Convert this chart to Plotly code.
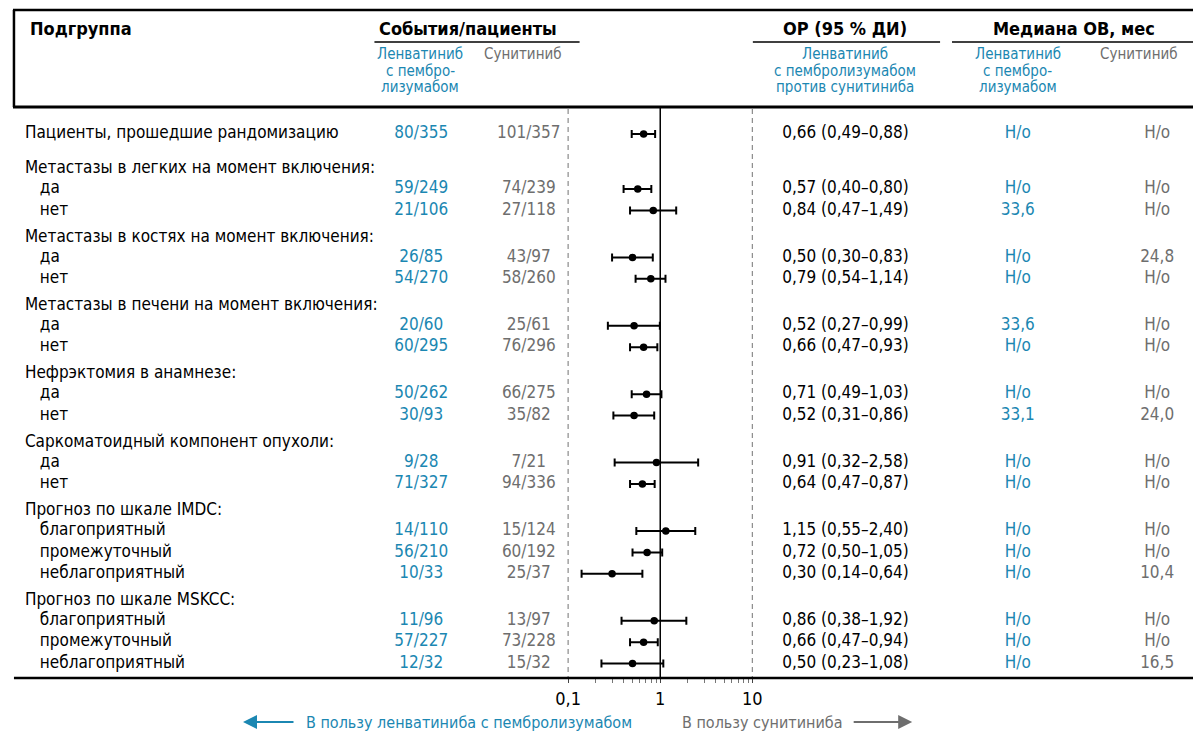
import plotly.graph_objects as go

W, H = 1194, 732
TEAL = "#1b87b2"
GRAY = "#6e6e6e"
FONT = "DejaVu Sans Condensed, Liberation Sans Narrow, Arial Narrow, sans-serif"

# ---------------- data ----------------
labels = [
    "Пациенты, прошедшие рандомизацию",
    "Метастазы в легких на момент включения:", "да", "нет",
    "Метастазы в костях на момент включения:", "да", "нет",
    "Метастазы в печени на момент включения:", "да", "нет",
    "Нефрэктомия в анамнезе:", "да", "нет",
    "Саркоматоидный компонент опухоли:", "да", "нет",
    "Прогноз по шкале IMDC:", "благоприятный", "промежуточный", "неблагоприятный",
    "Прогноз по шкале MSKCC:", "благоприятный", "промежуточный", "неблагоприятный",
]
kinds = ["top",
         "group", "sub", "sub",
         "group", "sub", "sub",
         "group", "sub", "sub",
         "group", "sub", "sub",
         "group", "sub", "sub",
         "group", "sub", "sub", "sub",
         "group", "sub", "sub", "sub"]
events_lp = ["80/355", "", "59/249", "21/106", "", "26/85", "54/270", "", "20/60", "60/295",
             "", "50/262", "30/93", "", "9/28", "71/327", "", "14/110", "56/210", "10/33",
             "", "11/96", "57/227", "12/32"]
events_sun = ["101/357", "", "74/239", "27/118", "", "43/97", "58/260", "", "25/61", "76/296",
              "", "66/275", "35/82", "", "7/21", "94/336", "", "15/124", "60/192", "25/37",
              "", "13/97", "73/228", "15/32"]
hr = [0.66, None, 0.57, 0.84, None, 0.50, 0.79, None, 0.52, 0.66, None, 0.71, 0.52,
      None, 0.91, 0.64, None, 1.15, 0.72, 0.30, None, 0.86, 0.66, 0.50]
hr_lo = [0.49, None, 0.40, 0.47, None, 0.30, 0.54, None, 0.27, 0.47, None, 0.49, 0.31,
         None, 0.32, 0.47, None, 0.55, 0.50, 0.14, None, 0.38, 0.47, 0.23]
hr_hi = [0.88, None, 0.80, 1.49, None, 0.83, 1.14, None, 0.99, 0.93, None, 1.03, 0.86,
         None, 2.58, 0.87, None, 2.40, 1.05, 0.64, None, 1.92, 0.94, 1.08]
median_lp = ["Н/о", "", "Н/о", "33,6", "", "Н/о", "Н/о", "", "33,6", "Н/о", "", "Н/о", "33,1",
             "", "Н/о", "Н/о", "", "Н/о", "Н/о", "Н/о", "", "Н/о", "Н/о", "Н/о"]
median_sun = ["Н/о", "", "Н/о", "Н/о", "", "24,8", "Н/о", "", "Н/о", "Н/о", "", "Н/о", "24,0",
              "", "Н/о", "Н/о", "", "Н/о", "Н/о", "10,4", "", "Н/о", "Н/о", "16,5"]
tick_vals = [0.1, 1, 10]
tick_text = ["0,1", "1", "10"]

# ---------------- row layout (pixel rows) ----------------
ys = []
y = 134.0
for i, k in enumerate(kinds):
    if i > 0:
        prev = kinds[i - 1]
        if k == "group":
            y += 35 if prev == "top" else 27
        elif prev == "group":
            y += 20
        else:
            y += 21.4
    ys.append(y)

TOP, HEAD_BOT, AX_Y = 10, 107, 678
X_ONE, DEC = 659, 92.5          # pixel of HR=1, pixels per decade
LOGR = 1.1
dom = [(X_ONE - LOGR * DEC) / W, (X_ONE + LOGR * DEC) / W]


def px(x):
    return x / W


def py(y):
    return 1 - y / H


fig = go.Figure()

# reference lines in forest panel
fig.add_trace(go.Scatter(x=[1, 1], y=[HEAD_BOT, AX_Y], mode="lines",
                         line=dict(color="black", width=1.5), hoverinfo="skip"))
for v in (0.1, 10):
    fig.add_trace(go.Scatter(x=[v, v], y=[HEAD_BOT + 2, AX_Y], mode="lines",
                             line=dict(color="#8a8a8a", width=1.2, dash="5px,4px"),
                             hoverinfo="skip"))

# forest points
idx = [i for i, v in enumerate(hr) if v is not None]
fig.add_trace(go.Scatter(
    x=[hr[i] for i in idx], y=[ys[i] for i in idx], mode="markers",
    marker=dict(color="black", size=7.5),
    error_x=dict(type="data", symmetric=False,
                 array=[hr_hi[i] - hr[i] for i in idx],
                 arrayminus=[hr[i] - hr_lo[i] for i in idx],
                 color="black", thickness=2, width=4),
    hoverinfo="skip"))


def fmt(v):
    return f"{v:.2f}".replace(".", ",")


hr_text = [f"{fmt(hr[i])} ({fmt(hr_lo[i])}–{fmt(hr_hi[i])})" if hr[i] is not None else ""
           for i in range(len(hr))]

SZ = 17
# label column
lab_x = [21 if k != "sub" else 36 for k in kinds]
fig.add_trace(go.Scatter(x=lab_x, y=ys, xaxis="x2", mode="text", text=labels,
                         textposition="middle right", cliponaxis=False,
                         textfont=dict(family=FONT, size=SZ, color="black"), hoverinfo="skip"))


def col(xc, texts, color):
    fig.add_trace(go.Scatter(x=[xc] * len(texts), y=ys, xaxis="x2", mode="text", text=texts,
                             textposition="middle center", cliponaxis=False,
                             textfont=dict(family=FONT, size=SZ, color=color),
                             hoverinfo="skip"))


col(419, events_lp, TEAL)
col(527, events_sun, GRAY)
col(845, hr_text, "black")
col(1018, median_lp, TEAL)
col(1158, median_sun, GRAY)

# ---------------- shapes ----------------
shapes = [
    dict(type="line", xref="paper", yref="paper", x0=px(9), x1=1, y0=py(TOP), y1=py(TOP),
         line=dict(color="black", width=2.5)),
    dict(type="line", xref="paper", yref="paper", x0=px(10), x1=px(10), y0=py(TOP), y1=py(HEAD_BOT),
         line=dict(color="black", width=2.5)),
    dict(type="line", xref="paper", yref="paper", x0=px(9), x1=1, y0=py(HEAD_BOT), y1=py(HEAD_BOT),
         line=dict(color="black", width=3)),
    dict(type="line", xref="paper", yref="paper", x0=px(10), x1=1, y0=py(AX_Y), y1=py(AX_Y),
         line=dict(color="black", width=2.5)),
]
for a, b in [(372, 578), (752, 940), (952, 1194)]:
    shapes.append(dict(type="line", xref="paper", yref="paper", x0=px(a), x1=px(b),
                       y0=py(42), y1=py(42), line=dict(color="black", width=1.5)))

# ---------------- annotations ----------------
anns = []


def ann(text, x, y, color="black", size=SZ, xanchor="center", bold=False):
    anns.append(dict(text=f"<b>{text}</b>" if bold else text, x=px(x), y=py(y),
                     xref="paper", yref="paper", showarrow=False, xanchor=xanchor,
                     yanchor="middle", font=dict(family=FONT, size=size, color=color)))


ann("Подгруппа", 24, 28, xanchor="left", bold=True, size=18)
ann("События/пациенты", 466, 28, bold=True, size=18)
ann("ОР (95 % ДИ)", 845, 28, bold=True, size=18)
ann("Медиана ОВ, мес", 1075, 28, bold=True, size=18)
SUB = 15
for i, t in enumerate(["Ленватиниб", "с пембро-", "лизумабом"]):
    ann(t, 418, 54 + 16.5 * i, TEAL, SUB)
    ann(t, 1018, 54 + 16.5 * i, TEAL, SUB)
for i, t in enumerate(["Ленватиниб", "с пембролизумабом", "против сунитиниба"]):
    ann(t, 845, 54 + 16.5 * i, TEAL, SUB)
ann("Сунитиниб", 521, 54, GRAY, SUB)
ann("Сунитиниб", 1140, 54, GRAY, SUB)

ann("В пользу ленватиниба с пембролизумабом", 467, 722, TEAL, 16)
ann("В пользу сунитиниба", 761, 722, GRAY, 16)
anns.append(dict(text="", x=px(240), y=py(722), xref="paper", yref="paper", showarrow=True,
                 ax=52, ay=0, arrowhead=2, arrowsize=1.4, arrowwidth=2, arrowcolor=TEAL))
anns.append(dict(text="", x=px(912), y=py(722), xref="paper", yref="paper", showarrow=True,
                 ax=-60, ay=0, arrowhead=2, arrowsize=1.4, arrowwidth=2, arrowcolor=GRAY))

fig.update_layout(
    width=W, height=H, margin=dict(l=0, r=0, t=0, b=0),
    paper_bgcolor="white", plot_bgcolor="rgba(0,0,0,0)", showlegend=False,
    font=dict(family=FONT, size=SZ, color="black"),
    xaxis=dict(type="log", range=[-LOGR, LOGR], domain=dom, anchor="y",
               showgrid=False, zeroline=False, showline=False,
               tickmode="array", tickvals=tick_vals, ticktext=tick_text,
               ticks="outside", ticklen=4, tickwidth=1, tickcolor="#444",
               tickfont=dict(family=FONT, size=18, color="black"), ticklabelstandoff=0,
               minor=dict(ticks="outside", ticklen=4, tickwidth=1, tickcolor="#777",
                          tickmode="array",
                          tickvals=[0.2, 0.3, 0.4, 0.5, 0.6, 0.7, 0.8, 0.9,
                                    2, 3, 4, 5, 6, 7, 8, 9])),
    xaxis2=dict(range=[0, W], domain=[0, 1], anchor="y", visible=False),
    yaxis=dict(range=[AX_Y, 0], domain=[(H - AX_Y) / H, 1], visible=False),
    shapes=shapes, annotations=anns,
)

fig.write_html("out.html", config={"displayModeBar": False},
               post_script="document.body.style.margin='0px';")
